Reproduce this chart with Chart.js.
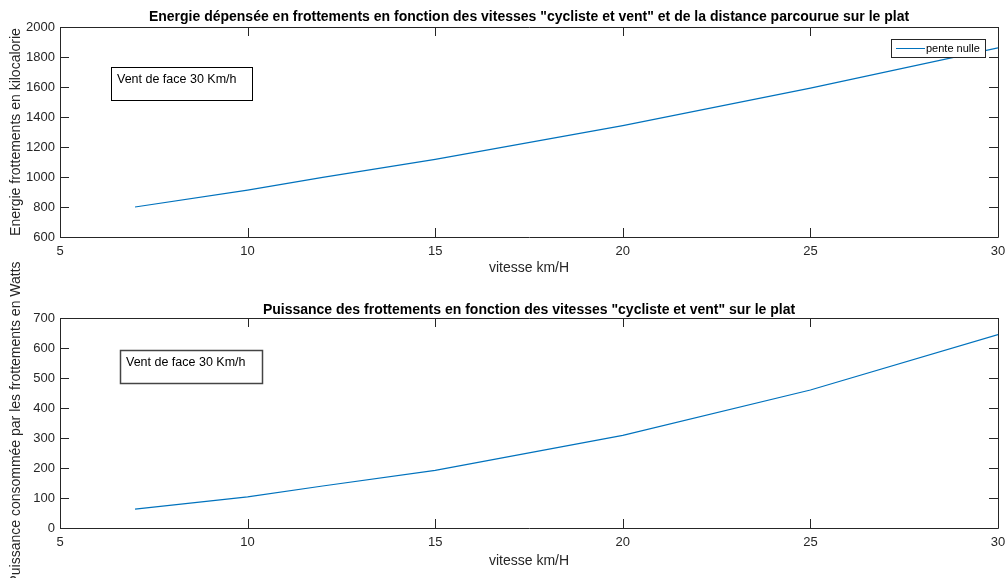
<!DOCTYPE html>
<html>
<head>
<meta charset="utf-8">
<script src="https://cdn.jsdelivr.net/npm/chart.js@4"></script>
<style>
  body { margin: 0; background: #fff; width: 1005px; height: 578px; overflow: hidden; position: relative; }
  canvas { position: absolute; left: 0; }
</style>
</head>
<body>
<canvas id="energyChart" width="1005" height="290" style="top:0"></canvas>
<canvas id="powerChart" width="1005" height="328" style="top:250px"></canvas>
<script>
// values
const vitesses = [7, 10, 12, 15, 20, 25, 30];
const energieKcal = [800, 912, 997, 1117, 1343, 1592, 1861];
const puissanceWatts = [63, 104, 140, 192, 309, 460, 645];
const xTicks = [5, 10, 15, 20, 25, 30];
const energieTicks = [600, 800, 1000, 1200, 1400, 1600, 1800, 2000];
const puissanceTicks = [0, 100, 200, 300, 400, 500, 600, 700];

const FONT = '"Liberation Sans", Arial, Helvetica, sans-serif';
const AXIS_COLOR = '#262626';
const LINE_COLOR = '#0072BD';

Chart.defaults.font.family = FONT;
Chart.defaults.color = AXIS_COLOR;

// matlab-ish box, inward ticks, title, text box and legend
const matlabAxes = {
  id: 'matlabAxes',
  afterDatasetsDraw(chart, args, opts) {
    const { ctx, chartArea: a, scales: { x, y } } = chart;
    ctx.save();
    ctx.strokeStyle = AXIS_COLOR;
    ctx.lineWidth = 1;
    ctx.beginPath();
    ctx.rect(a.left + 0.5, a.top + 0.5, a.right - a.left, a.bottom - a.top);
    const len = 9;
    x.ticks.forEach(t => {
      const px = Math.round(x.getPixelForValue(t.value)) + 0.5;
      ctx.moveTo(px, a.bottom); ctx.lineTo(px, a.bottom - len);
      ctx.moveTo(px, a.top); ctx.lineTo(px, a.top + len);
    });
    y.ticks.forEach(t => {
      const py = Math.round(y.getPixelForValue(t.value)) + 0.5;
      ctx.moveTo(a.left, py); ctx.lineTo(a.left + len, py);
      ctx.moveTo(a.right, py); ctx.lineTo(a.right - len, py);
    });
    ctx.stroke();

    // title
    ctx.fillStyle = '#000';
    ctx.font = 'bold 14px ' + FONT;
    ctx.textAlign = 'center';
    ctx.textBaseline = 'middle';
    ctx.fillText(opts.title, (a.left + a.right) / 2, a.top - opts.titleOffset);

    // text annotation
    const n = opts.note;
    ctx.strokeStyle = n.color;
    ctx.lineWidth = n.width;
    ctx.strokeRect(n.x + 0.5, n.y + 0.5, n.w, n.h);
    ctx.font = '12.5px ' + FONT;
    ctx.textAlign = 'left';
    ctx.fillText(n.text, n.x + 6, n.y + 13);

    // legend
    if (opts.legend) {
      const l = opts.legend;
      ctx.fillStyle = '#fff';
      ctx.fillRect(l.x, l.y, l.w, l.h);
      ctx.strokeStyle = AXIS_COLOR;
      ctx.lineWidth = 1;
      ctx.strokeRect(l.x + 0.5, l.y + 0.5, l.w, l.h);
      ctx.strokeStyle = LINE_COLOR;
      ctx.beginPath();
      ctx.moveTo(l.x + 5, l.y + 9.5);
      ctx.lineTo(l.x + 34, l.y + 9.5);
      ctx.stroke();
      ctx.fillStyle = '#000';
      ctx.font = '11px ' + FONT;
      ctx.fillText(chart.data.datasets[0].label, l.x + 35, l.y + 10);
    }
    ctx.restore();
  }
};

function makeChart(el, cfg) {
  return new Chart(el, {
    type: 'line',
    data: {
      datasets: [{
        label: cfg.label,
        data: vitesses.map((v, i) => ({ x: v, y: cfg.values[i] })),
        borderColor: LINE_COLOR,
        borderWidth: 1.2,
        pointRadius: 0,
        tension: 0,
        fill: false
      }]
    },
    options: {
      responsive: false,
      animation: false,
      layout: { padding: { top: cfg.top, right: 7, left: 0, bottom: 0 } },
      plugins: {
        legend: { display: false },
        tooltip: { enabled: false },
        matlabAxes: cfg.axes
      },
      scales: {
        x: {
          type: 'linear',
          min: 5,
          max: 30,
          afterBuildTicks: s => { s.ticks = xTicks.map(v => ({ value: v })); },
          afterFit: s => { s.height = cfg.xHeight; s.paddingLeft = 0; s.paddingRight = 0; },
          grid: { display: false, drawTicks: false },
          border: { display: false },
          ticks: { padding: 7, font: { size: 13 }, callback: v => String(v) },
          title: { display: true, text: 'vitesse km/H', font: { size: 14 }, padding: { bottom: cfg.xTitlePad } }
        },
        y: {
          min: cfg.yTicks[0],
          max: cfg.yTicks[cfg.yTicks.length - 1],
          afterBuildTicks: s => { s.ticks = cfg.yTicks.map(v => ({ value: v })); },
          afterFit: s => { s.width = 60; s.paddingTop = 0; s.paddingBottom = 0; },
          grid: { display: false, drawTicks: false },
          border: { display: false },
          ticks: { padding: 5, font: { size: 13 }, callback: v => String(v) },
          title: { display: true, text: cfg.yTitle, font: { size: 14 }, padding: { top: 8 } }
        }
      }
    },
    plugins: [matlabAxes]
  });
}

makeChart(document.getElementById('energyChart'), {
  label: 'pente nulle',
  values: energieKcal,
  yTicks: energieTicks,
  yTitle: 'Energie frottements en kilocalorie',
  top: 27,
  xHeight: 53,
  xTitlePad: 13,
  axes: {
    title: 'Energie dépensée en frottements en fonction des vitesses "cycliste et vent" et de la distance parcourue sur le plat',
    titleOffset: 10,
    note: { text: 'Vent de face 30 Km/h', x: 111, y: 67, w: 141, h: 33, color: '#000', width: 1 },
    legend: { x: 891, y: 39, w: 94, h: 18 }
  }
});

makeChart(document.getElementById('powerChart'), {
  label: 'puissance',
  values: puissanceWatts,
  yTicks: puissanceTicks,
  yTitle: 'Puissance consommée par les frottements en Watts',
  top: 68,
  xHeight: 50,
  xTitlePad: 8,
  axes: {
    title: 'Puissance des frottements en fonction des vitesses "cycliste et vent" sur le plat',
    titleOffset: 8,
    note: { text: 'Vent de face 30 Km/h', x: 120, y: 100, w: 142, h: 33, color: '#444', width: 1.5 }
  }
});
</script>
</body>
</html>
